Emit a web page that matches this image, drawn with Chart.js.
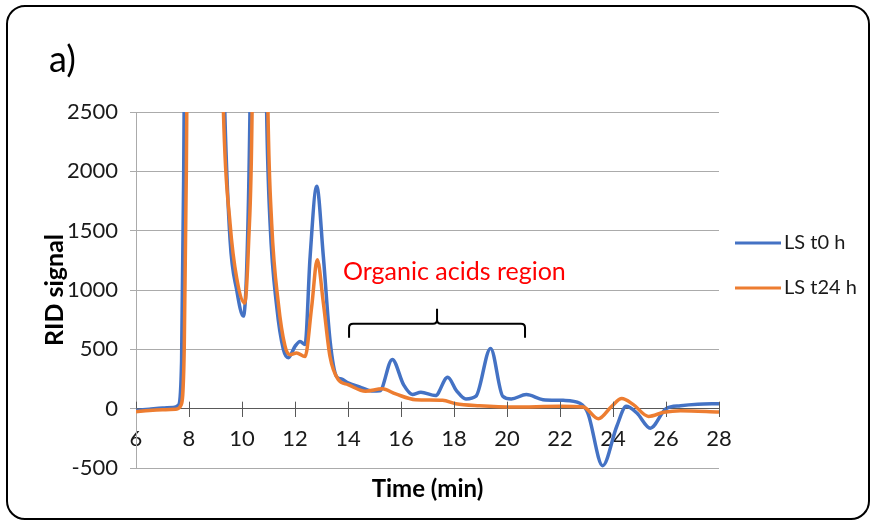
<!DOCTYPE html>
<html>
<head>
<meta charset="utf-8">
<script src="https://cdn.jsdelivr.net/npm/chart.js@4"></script>
<style>
    html, body { margin: 0; padding: 0; background: #fff; }
    canvas { display: block; }
</style>
</head>
<body>
<canvas id="chart" width="871" height="521"></canvas>
<script>
// LS t0 h  (time in min, RID signal)
const t0Times = [6.0, 6.5, 7.0, 7.4, 7.6, 7.72, 7.8, 7.9, 8.5, 9.1, 9.35, 9.55, 9.8, 10.05, 10.18, 10.3, 10.45, 10.75, 10.93,
    11.06, 11.31, 11.56, 11.75, 12.0, 12.19, 12.38, 12.57, 12.82, 13.07, 13.32, 13.57, 13.75, 14.0, 14.5, 14.9, 15.2,
    15.67, 16.1, 16.43, 16.75, 17.3, 17.76, 18.1, 18.45, 18.83, 19.38, 19.84, 20.16, 20.73, 21.36, 22.12, 22.75, 23.05,
    23.61, 24.14, 24.5, 24.9, 25.41, 26.0, 26.55, 27.2, 28.0]
const t0Signal = [-15, -5, 5, 10, 30, 400, 2000, 5000, 8000, 5000, 2500, 1420, 1000, 780, 1200, 2500, 6000, 6000, 2500,
    1560, 860, 500, 430, 525, 567, 540, 1280, 1875, 1280, 580, 270, 250, 218, 178, 148, 150,
    415, 200, 120, 138, 110, 265, 150, 82, 105, 508, 105, 82, 119, 76, 70, 45, -37,
    -480, -150, 20, -37, -164, 0, 25, 37, 42]

// LS t24 h
const t24Times = [6.0, 6.5, 7.0, 7.5, 7.7, 7.82, 7.9, 8.0, 8.6, 9.1, 9.3, 9.55, 9.8, 10.1, 10.25, 10.38, 10.5, 10.8, 10.98,
    11.12, 11.37, 11.62, 11.81, 12.06, 12.38, 12.63, 12.84, 13.07, 13.32, 13.63, 14.0, 14.66, 15.29, 15.8, 16.55,
    17.57, 18.07, 18.96, 20.22, 22.0, 22.88, 23.45, 23.95, 24.33, 24.77, 25.34, 25.91, 26.55, 28.0]
const t24Signal = [-25, -15, -10, -5, 30, 500, 2000, 5000, 8000, 5000, 2500, 1560, 1100, 890, 1400, 2500, 6000, 6000, 2500,
    1560, 890, 530, 455, 470, 440, 860, 1255, 890, 440, 245, 203, 147, 167, 124, 76,
    71, 42, 25, 14, 20, 14, -85, 20, 85, 34, -65, -31, -17, -28]

const seriesNames = ['LS t0 h', 'LS t24 h']
const seriesColors = ['#4472C4', '#ED7D31']

const FONT = 'Lato'
const GRID = '#ABABAB'
const AXIS = '#595959'

const toPoints = (xs, ys) => xs.map((x, i) => ({ x, y: ys[i] }))

// frame, annotation texts, brace, legend
const decorations = {
    id: 'decorations',
    beforeDraw(chart) {
        const { ctx } = chart
        ctx.save()
        ctx.fillStyle = '#fff'
        ctx.fillRect(0, 0, chart.width, chart.height)
        ctx.strokeStyle = '#000'
        ctx.lineWidth = 2
        ctx.beginPath()
        ctx.roundRect(7, 6, 862, 513, 18)
        ctx.stroke()
        ctx.restore()
    },
    afterDatasetsDraw(chart) {
        const { ctx, scales: { x, y } } = chart
        ctx.save()

        // crossing part of the x tick marks
        const y0 = y.getPixelForValue(0)
        ctx.strokeStyle = AXIS
        ctx.lineWidth = 1
        x.ticks.forEach(tick => {
            const px = Math.round(x.getPixelForValue(tick.value)) + 0.5
            ctx.beginPath()
            ctx.moveTo(px, y0 - 7)
            ctx.lineTo(px, y0)
            ctx.stroke()
        })

        // brace over the organic acids region
        const bx1 = x.getPixelForValue(14.04), bx2 = x.getPixelForValue(20.68), bxm = x.getPixelForValue(17.36)
        const byEnd = y.getPixelForValue(598), byLine = y.getPixelForValue(715), byTip = y.getPixelForValue(842)
        ctx.strokeStyle = '#000'
        ctx.lineWidth = 2
        ctx.beginPath()
        ctx.moveTo(bx1, byEnd)
        ctx.lineTo(bx1, byLine + 4)
        ctx.quadraticCurveTo(bx1, byLine, bx1 + 4, byLine)
        ctx.lineTo(bxm - 4, byLine)
        ctx.quadraticCurveTo(bxm, byLine, bxm, byLine - 4)
        ctx.lineTo(bxm, byTip)
        ctx.moveTo(bxm, byLine - 4)
        ctx.quadraticCurveTo(bxm, byLine, bxm + 4, byLine)
        ctx.lineTo(bx2 - 4, byLine)
        ctx.quadraticCurveTo(bx2, byLine, bx2, byLine + 4)
        ctx.lineTo(bx2, byEnd)
        ctx.stroke()

        ctx.textBaseline = 'middle'
        ctx.textAlign = 'left'
        ctx.fillStyle = '#FF0000'
        ctx.font = `25px ${FONT}`
        ctx.fillText('Organic acids region', 343, 272)

        ctx.fillStyle = '#000'
        ctx.font = `36px ${FONT}`
        ctx.fillText('a)', 49, 60)

        ctx.textAlign = 'center'
        ctx.font = `bold 24px ${FONT}`
        ctx.fillText('Time (min)', (chart.chartArea.left + chart.chartArea.right) / 2, 489)

        // legend
        ctx.textAlign = 'left'
        ctx.font = `20px ${FONT}`
        seriesNames.forEach((name, i) => {
            const ly = 243 + i * 45
            ctx.strokeStyle = seriesColors[i]
            ctx.lineWidth = 3
            ctx.beginPath()
            ctx.moveTo(735, ly)
            ctx.lineTo(781, ly)
            ctx.stroke()
            ctx.fillStyle = '#1a1a1a'
            ctx.fillText(name, 784, ly)
        })
        ctx.restore()
    }
}

new Chart(document.getElementById('chart'), {
    type: 'line',
    data: {
        datasets: [
            { label: seriesNames[0], data: toPoints(t0Times, t0Signal), borderColor: seriesColors[0], order: 1 },
            { label: seriesNames[1], data: toPoints(t24Times, t24Signal), borderColor: seriesColors[1], order: 0 },
        ]
    },
    options: {
        responsive: false,
        animation: false,
        devicePixelRatio: 1,
        layout: { padding: { left: 20, right: 152, top: 112, bottom: 53 } },
        elements: {
            line: { borderWidth: 3.5, cubicInterpolationMode: 'monotone', fill: false },
            point: { radius: 0, hoverRadius: 0 },
        },
        plugins: { legend: { display: false }, tooltip: { enabled: false } },
        scales: {
            x: {
                type: 'linear',
                position: { y: 0 },
                min: 6, max: 28,
                ticks: { stepSize: 2, color: '#1a1a1a', font: { family: FONT, size: 22 }, padding: 9, maxRotation: 0,
                    callback: v => String(v) },
                grid: { drawOnChartArea: false, drawTicks: true, tickLength: 8, tickColor: AXIS },
                border: { color: AXIS, width: 1 },
                afterFit: scale => { scale.paddingLeft = 0; scale.paddingRight = 0 },
            },
            y: {
                type: 'linear',
                min: -500, max: 2500,
                ticks: { stepSize: 500, color: '#1a1a1a', font: { family: FONT, size: 22 }, padding: 12,
                    callback: v => String(v) },
                grid: { color: ctx => ctx.tick && ctx.tick.value === 0 ? AXIS : GRID, tickLength: 6, tickColor: GRID },
                border: { color: GRID, width: 1 },
                title: { display: true, text: 'RID signal', color: '#000', font: { family: FONT, size: 25, weight: 'bold' }, padding: { top: 20, bottom: 0 } },
                afterFit: scale => { scale.width = 116 },
            },
        },
    },
    plugins: [decorations],
})
</script>
</body>
</html>
